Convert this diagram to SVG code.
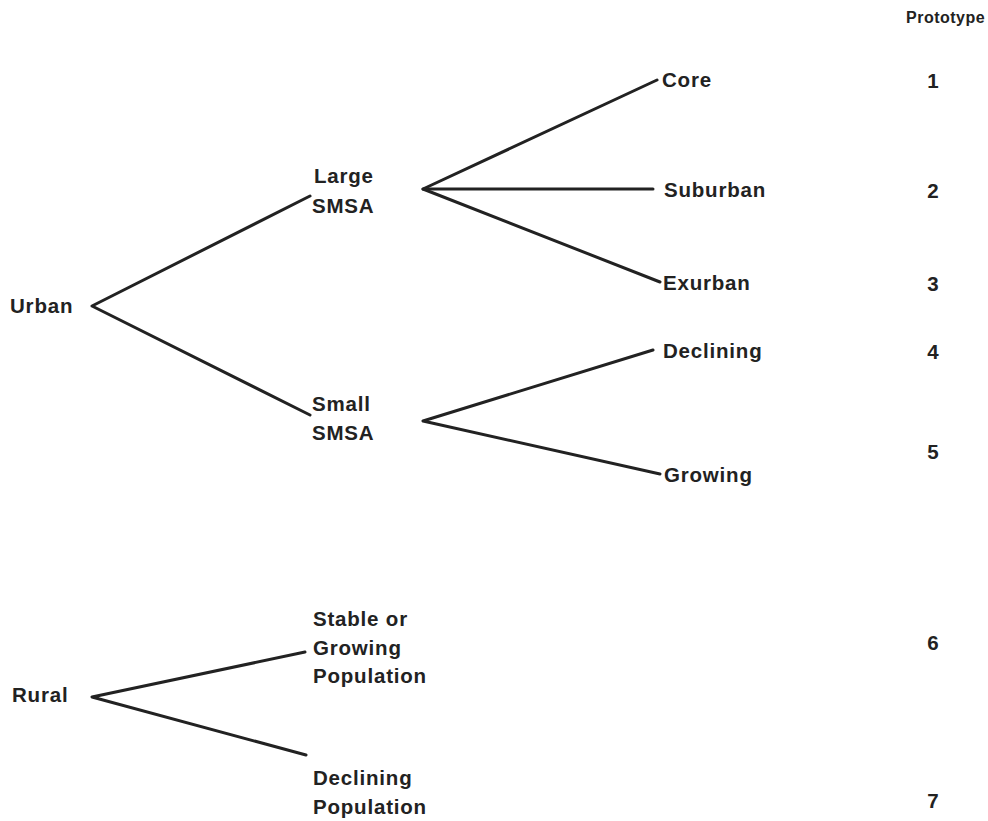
<svg xmlns="http://www.w3.org/2000/svg" width="988" height="821" viewBox="0 0 988 821">
<style>
  text { font-family: "Liberation Sans", Arial, sans-serif; font-weight: bold; font-size: 20.5px; letter-spacing: 0.8px; fill: #222; }
  .num { text-anchor: middle; letter-spacing: 0; }
  .hdr { font-size: 16px; letter-spacing: 0.5px; }
  .edge { stroke: #222; stroke-width: 3; fill: none; stroke-linecap: round; stroke-linejoin: round; }
</style>
<rect width="988" height="821" fill="#fff"/>
<g id="connectors">
  <polyline class="edge" points="310,196 92,306 310,415"/>
  <polyline class="edge" points="657,80 423,189 660,282"/>
  <line class="edge" x1="423" y1="189" x2="653" y2="189"/>
  <polyline class="edge" points="653,350 423,421 660,474"/>
  <polyline class="edge" points="305,652 92,697 306,755"/>
</g>
<g id="urban"><text x="10" y="313">Urban</text></g>
<g id="rural"><text x="12" y="702">Rural</text></g>
<g id="large-smsa"><text x="314" y="183">Large</text><text x="312" y="213">SMSA</text></g>
<g id="small-smsa"><text x="312" y="411">Small</text><text x="312" y="440">SMSA</text></g>
<g id="core"><text x="662" y="87">Core</text></g>
<g id="suburban"><text x="664" y="197">Suburban</text></g>
<g id="exurban"><text x="663" y="290">Exurban</text></g>
<g id="declining"><text x="663" y="358">Declining</text></g>
<g id="growing"><text x="664" y="482">Growing</text></g>
<g id="stable-growing-pop"><text x="313" y="626">Stable or</text><text x="313" y="655">Growing</text><text x="313" y="683">Population</text></g>
<g id="declining-pop"><text x="313" y="785">Declining</text><text x="313" y="814">Population</text></g>
<g id="prototype-col">
  <text class="hdr" x="906" y="23">Prototype</text>
  <text class="num" x="933" y="88">1</text>
  <text class="num" x="933" y="198">2</text>
  <text class="num" x="933" y="291">3</text>
  <text class="num" x="933" y="359">4</text>
  <text class="num" x="933" y="459">5</text>
  <text class="num" x="933" y="650">6</text>
  <text class="num" x="933" y="808">7</text>
</g>
</svg>
